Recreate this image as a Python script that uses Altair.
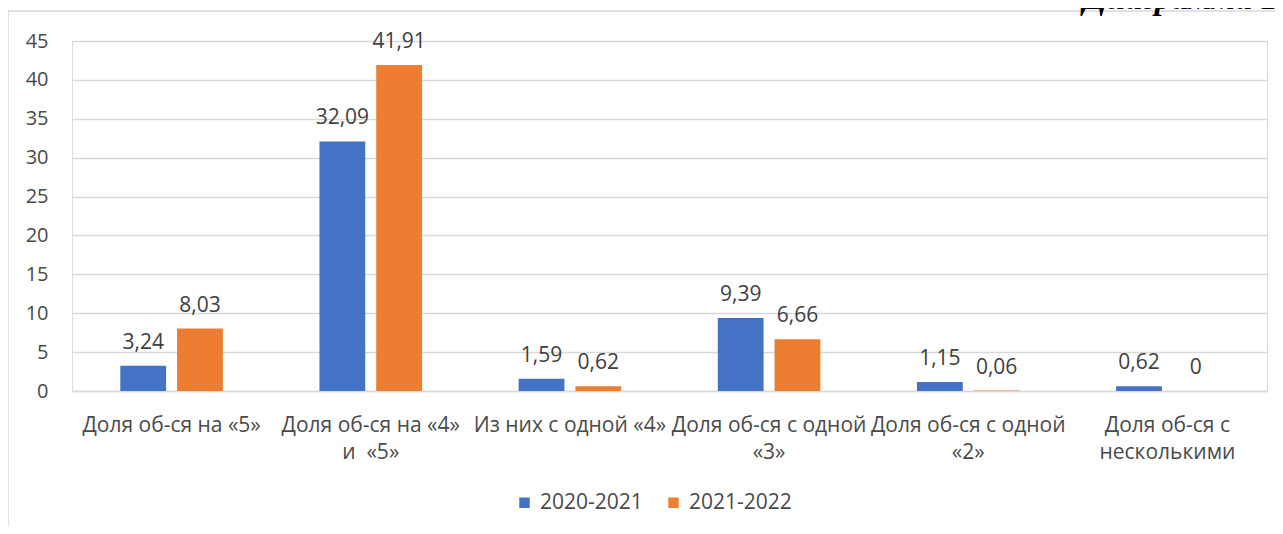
import altair as alt
import pandas as pd

categories = [
    "Доля об-ся на «5»",
    "Доля об-ся на «4»|и\u00a0\u00a0«5»",
    "Из них с одной «4»",
    "Доля об-ся с одной|«3»",
    "Доля об-ся с одной|«2»",
    "Доля об-ся с|несколькими",
]
series = ["2020-2021", "2021-2022"]
values_2020_2021 = [3.24, 32.09, 1.59, 9.39, 1.15, 0.62]
values_2021_2022 = [8.03, 41.91, 0.62, 6.66, 0.06, 0]
y_ticks = [0, 5, 10, 15, 20, 25, 30, 35, 40, 45]
colors = ["#4472C4", "#ED7D31"]
caption = "Диаграмма 1"

rows = []
for c, a, b in zip(categories, values_2020_2021, values_2021_2022):
    rows.append({"cat": c, "series": series[0], "value": a})
    rows.append({"cat": c, "series": series[1], "value": b})
df = pd.DataFrame(rows)

W, H = 1195, 350
FONT = "Open Sans"
TXT = "#4a4a4a"

x_enc = alt.X(
    "cat:N",
    sort=categories,
    scale=alt.Scale(paddingInner=0.485, paddingOuter=0.2425),
    axis=alt.Axis(
        title=None,
        labelAngle=0,
        labelExpr="split(datum.label, '|')",
        labelFont=FONT,
        labelFontSize=21,
        labelFontWeight=500,
        labelColor=TXT,
        labelLineHeight=27,
        labelPadding=23,
        labelLimit=400,
        labelOverlap=False,
        ticks=False,
        domain=True,
        domainColor="#d9d9d9",
        domainWidth=1.5,
        grid=False,
    ),
)
xoff_enc = alt.XOffset(
    "series:N", sort=series, scale=alt.Scale(paddingInner=0.193, paddingOuter=0)
)
y_enc = alt.Y(
    "value:Q",
    scale=alt.Scale(domain=[0, 45], nice=False),
    axis=alt.Axis(
        title=None,
        values=y_ticks,
        labelOverlap=False,
        labelFont=FONT,
        labelFontSize=20,
        labelFontWeight=500,
        labelColor=TXT,
        labelPadding=24,
        ticks=False,
        domain=False,
        grid=True,
        gridColor="#d9d9d9",
        gridWidth=1.5,
    ),
)

bars = alt.Chart(df).mark_bar().encode(
    x=x_enc,
    xOffset=xoff_enc,
    y=y_enc,
    color=alt.Color(
        "series:N",
        sort=series,
        scale=alt.Scale(domain=series, range=colors),
        legend=alt.Legend(
            title=None,
            orient="none",
            direction="horizontal",
            legendX=442,
            legendY=451,
            symbolType="square",
            symbolSize=110,
            symbolStrokeWidth=0,
            labelFont=FONT,
            labelFontSize=21,
            labelFontWeight=500,
            labelColor=TXT,
            labelOffset=5,
            columnPadding=20,
        ),
    ),
)

labels = (
    alt.Chart(df)
    .transform_calculate(label="replace(toString(datum.value), '.', ',')")
    .mark_text(
        baseline="alphabetic",
        dy=-17,
        font=FONT,
        fontSize=21,
        fontWeight=500,
        color="#404040",
    )
    .encode(x=x_enc, xOffset=xoff_enc, y=y_enc, text="label:N")
)

frame_df = pd.DataFrame({"k": [0]})
frame = alt.Chart(frame_df).mark_rect(
    filled=False, stroke="#d9d9d9", strokeWidth=1.5
).encode(
    x=alt.value(-64), x2=alt.value(W + 200), y=alt.value(-30), y2=alt.value(H + 400)
)

cap = alt.Chart(frame_df).mark_text(
    align="left",
    baseline="alphabetic",
    font="Liberation Serif",
    fontStyle="italic",
    fontWeight="bold",
    fontSize=34,
    color="#000000",
).encode(x=alt.value(1011), y=alt.value(-32), text=alt.value(caption))

chart = (
    alt.layer(frame, bars, labels, cap)
    .properties(
        width=W,
        height=H,
        autosize=alt.AutoSizeParams(type="none"),
        padding={"left": 64, "top": 33, "right": 8, "bottom": 135},
    )
    .configure_view(stroke=None)
    .configure(background="white")
)

chart.save("out.html", embed_options={"renderer": "svg", "actions": False})
